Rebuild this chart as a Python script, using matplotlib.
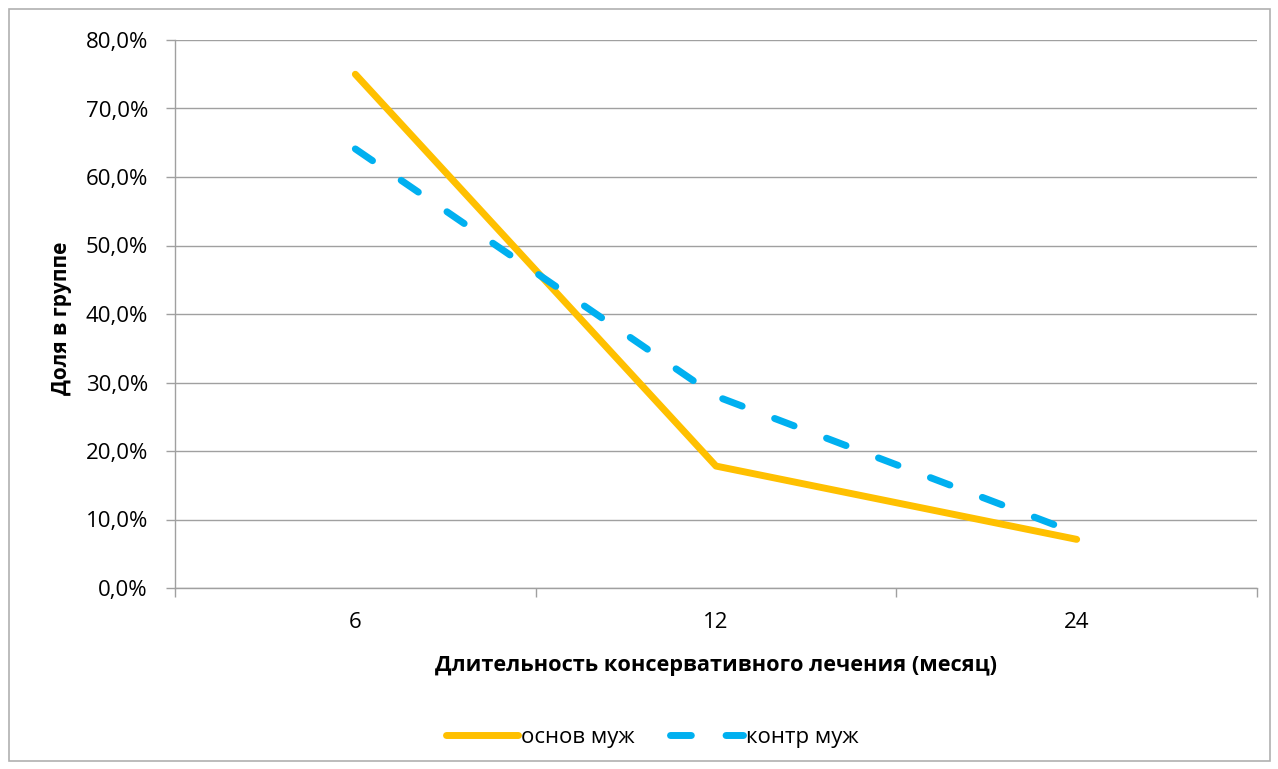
import matplotlib.pyplot as plt
from matplotlib.patches import Rectangle

# Data
categories = ["6", "12", "24"]
osnov_muzh = [75.0, 17.8, 7.1]
kontr_muzh = [64.1, 28.0, 8.0]
y_ticks = [0, 10, 20, 30, 40, 50, 60, 70, 80]

plt.rcParams['font.family'] = ['Open Sans', 'DejaVu Sans']

fig = plt.figure(figsize=(12.78, 7.69), dpi=100)
ax = fig.add_axes([175 / 1278, 1 - 588 / 769, 1082 / 1278, 548 / 769])

# Outer chart border
fig.patches.append(Rectangle((9 / 1278, 8 / 769), 1261 / 1278, 752 / 769, transform=fig.transFigure,
                             fill=False, edgecolor='#b0b0b0', linewidth=1.2))

x = list(range(len(categories)))
ax.plot(x, osnov_muzh, color='#FFC000', linewidth=5, solid_capstyle='round', solid_joinstyle='round',
        label='основ муж', zorder=3)
ax.plot(x, kontr_muzh, color='#00B0F0', linewidth=5, dashes=(3.0, 5.0), dash_capstyle='round',
        label='контр муж', zorder=4)

ax.set_xlim(-0.5, len(categories) - 0.5)
ax.set_ylim(0, 80)
ax.set_yticks(y_ticks)
ax.set_yticklabels(["{0:.1f}%".format(v).replace('.', ',') for v in y_ticks])
ax.set_xticks(x)
ax.set_xticklabels(categories)
ax.set_xticks([-0.5, 0.5, 1.5, 2.5], minor=True)
ax.tick_params(axis='x', which='major', length=0, pad=17, labelsize=16)
ax.tick_params(axis='x', which='minor', length=6.5, color='#a0a0a0', width=1)
ax.tick_params(axis='y', length=6.5, color='#a0a0a0', width=1, pad=13, labelsize=16)

ax.grid(axis='y', color='#a0a0a0', linewidth=1.0)
ax.set_axisbelow(True)
for side in ['top', 'right']:
    ax.spines[side].set_visible(False)
for side in ['left', 'bottom']:
    ax.spines[side].set_color('#a0a0a0')
    ax.spines[side].set_linewidth(1.0)

fig.text(62 / 1278, 1 - 318 / 769, 'Доля в группе', rotation=90, ha='center', va='center',
         fontsize=15, fontweight='bold')
fig.text(716 / 1278, 1 - 665 / 769, 'Длительность консервативного лечения (месяц)', ha='center', va='center',
         fontsize=15.7, fontweight='bold')

fig.legend(loc='center', bbox_to_anchor=(652 / 1278, 1 - 737 / 769), ncol=2, frameon=False, fontsize=16,
           handlelength=3.25, handletextpad=0.15, columnspacing=1.6)

fig.savefig('out.png', dpi=100)
